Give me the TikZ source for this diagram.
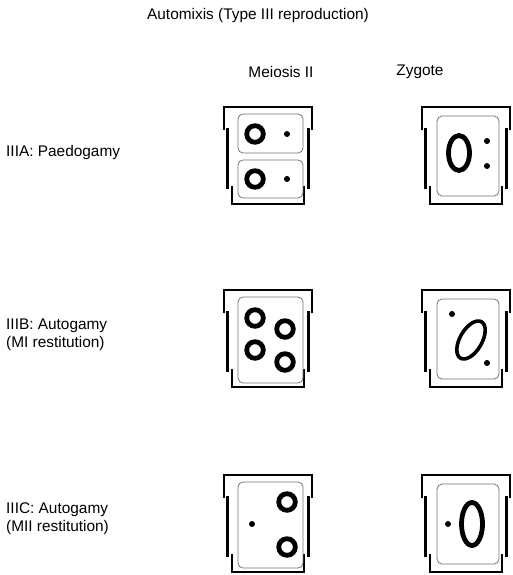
\documentclass[tikz,border=0pt]{standalone}
\usepackage{fontspec}
\setmainfont{Liberation Sans}

\tikzset{
  wall/.style={line width=2.8pt},
  pellicle/.style={draw=black!55, line width=0.8pt, rounded corners=5pt},
  nucleus/.style={line width=4.8pt},
  micro/.style={fill=black},
  txt/.style={font=\fontsize{15.4}{18}\selectfont, inner sep=0pt},
  rowlabel/.style={txt, anchor=west, align=left}
}

% stepped cell wall, #1,#2 = top left corner
\newcommand\cellframe[2]{%
  \begin{scope}[shift={(#1,#2)}]
    \draw[wall] (0,23) -- (0,0) -- (88,0) -- (88,23);
    \draw[wall] (3.5,21) -- (3.5,82);
    \draw[wall] (84.5,21) -- (84.5,82);
    \draw[wall] (8,79) -- (8,97) -- (80,97) -- (80,79);
  \end{scope}}

\begin{document}
\begin{tikzpicture}[x=1pt,y=-1pt]
\useasboundingbox (0,0) rectangle (512,575);

% headings
\node[txt] (title) at (258,16) {Automixis (Type III reproduction)};
\node[txt] (meiosis) at (281,72) {Meiosis II};
\node[txt] (zygote) at (420,72) {Zygote};

% row labels
\node[rowlabel] (iiia) at (6,153) {IIIA: Paedogamy};
\node[rowlabel] (iiib) at (6,335) {IIIB: Autogamy\\(MI restitution)};
\node[rowlabel] (iiic) at (6,519) {IIIC: Autogamy\\(MII restitution)};

% IIIA
\cellframe{224}{107}
\draw[pellicle] (238,114) rectangle (303,153);
\draw[pellicle] (238,160) rectangle (303,198);
\draw[nucleus] (255,134) circle (8.3);
\draw[nucleus] (255,179) circle (8.3);
\fill[micro] (287,134) circle (3);
\fill[micro] (287,179) circle (3);

\cellframe{422}{107}
\draw[pellicle] (437,116) rectangle (499,196);
\draw[nucleus] (459,153) ellipse [x radius=10.5pt, y radius=17.5pt];
\fill[micro] (487,141) circle (3);
\fill[micro] (487,166) circle (3);

% IIIB
\cellframe{224}{290}
\draw[pellicle] (238,297) rectangle (303,383);
\draw[nucleus] (255,318) circle (8.3);
\draw[nucleus] (285,329) circle (8.3);
\draw[nucleus] (255,350) circle (8.3);
\draw[nucleus] (285,362) circle (8.3);

\cellframe{422}{290}
\draw[pellicle] (437,299) rectangle (499,379);
\draw[line width=3.6pt, rotate around={-30:(471,340)}] (471,340) ellipse [x radius=11pt, y radius=21pt];
\fill[micro] (452,314) circle (3);
\fill[micro] (487,363) circle (3);

% IIIC
\cellframe{224}{475}
\draw[pellicle] (238,482) rectangle (303,568);
\draw[nucleus] (287,502) circle (8.3);
\draw[nucleus] (287,547) circle (8.3);
\fill[micro] (252,524) circle (3);

\cellframe{422}{475}
\draw[pellicle] (437,484) rectangle (499,564);
\fill[micro] (448,524) circle (3);
\draw[nucleus] (472,524) ellipse [x radius=10.5pt, y radius=21.5pt];
\end{tikzpicture}
\end{document}
